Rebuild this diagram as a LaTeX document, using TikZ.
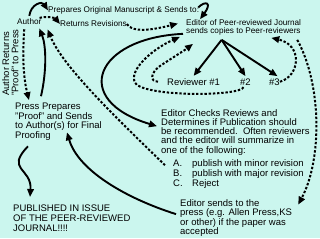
\documentclass[tikz,border=0pt]{standalone}
\usepackage{fontspec}
\setmainfont{Liberation Sans}
\usetikzlibrary{arrows.meta}
\definecolor{pubcyan}{HTML}{CBF6EE}

\begin{document}
\begin{tikzpicture}[
  x=1pt, y=-1pt,
  >={Triangle[length=8pt,width=6.5pt]},
  small/.style={font=\fontsize{8.2}{8.6}\selectfont, inner sep=0pt, align=left},
  body/.style={font=\fontsize{9.5}{9.4}\selectfont, inner sep=0pt, align=left},
  flow/.style={->, line width=1.9pt},
  back/.style={->, line width=2pt, dash pattern=on 2.4pt off 1.8pt},
]

% Background
\fill[pubcyan] (0,0) rectangle (320,238);
\useasboundingbox (0,0) rectangle (320,238);

% Author and editor
\node[small, anchor=base west] (auth) at (17,25) {Author};
\node[small, anchor=base west] (prep) at (48,12.5) {Prepares Original Manuscript \& Sends to:};
\node[small, anchor=base west] (ret) at (60,27) {Returns Revisions};
\node[small, anchor=north west] (ed) at (186,19.2) {Editor of Peer-reviewed Journal\\sends copies to Peer-reviewers};

% Reviewers
\node[body, anchor=base west] (rev1) at (167,85) {Reviewer \#1};
\node[body, anchor=base west] (rev2) at (240,85) {\#2};
\node[body, anchor=base west] (rev3) at (269,85) {\#3};

% Press and proofs
\node[body, rotate=90, anchor=north west] (rot) at (2,96) {Author Returns\\"Proof" to Press};
\node[body, anchor=north west] (press) at (15,103.2) {Press Prepares\\"Proof" and Sends\\to Author(s) for Final\\Proofing};

% Decision
\node[body, font=\fontsize{9.5}{9.2}\selectfont, anchor=north west] (chk) at (161,109.2) {
  Editor Checks Reviews and\\
  Determines if Publication should\\
  be recommended.\ \ Often reviewers\\
  and the editor will summarize in\\
  one of the following:\\[4.5pt]
  \hspace*{12pt}\makebox[19pt][l]{A.}publish with minor revision\\[0.5pt]
  \hspace*{12pt}\makebox[19pt][l]{B.}publish with major revision\\[0.5pt]
  \hspace*{12pt}\makebox[19pt][l]{C.}Reject
};
\node[body, font=\fontsize{9.5}{9.2}\selectfont, anchor=north west] (send) at (180,199.7) {Editor sends to the\\press (e.g. Allen Press,KS\\or other) if the paper was\\accepted};
\node[body, font=\fontsize{9.5}{10}\selectfont, anchor=north west] (pub) at (13,205) {PUBLISHED IN ISSUE\\OF THE PEER-REVIEWED\\JOURNAL!!!!};

% Submission
\draw[flow] ([yshift=3pt]auth.north) .. controls (31,4) and (42,1) .. (prep.west);
\draw[flow] ([shift={(-1,-3)}]prep.east) .. controls (206,0) and (212,3) .. ([shift={(14,0)}]ed.north west);

% Revisions
\draw[back] ([shift={(-2,-1)}]auth.north east) .. controls (48,16) and (55,18) .. (ret.west);
\draw[back] (ret.east) .. controls (132,33) and (152,30) .. ([shift={(-8,-4)}]ed.west);

% Copies to reviewers
\coordinate (fan) at ([shift={(-22,4)}]ed.south);
\draw[flow] (fan) -- ([yshift=2pt]rev1.north);
\draw[flow] (fan) -- ([yshift=2pt]rev2.north);
\draw[flow] (fan) -- ([shift={(3,-2)}]rev3.north);

% Reviews back to editor
\draw[back] (rev3.east) .. controls (300,76) and (303,45) .. ([shift={(-30,2)}]ed.south east);
\draw[back] ([xshift=-9pt]rev1.west) .. controls (150,82) and (150,73) .. (160,66)
  .. controls (172,58) and (185,50) .. ([shift={(7,8)}]ed.south west);
\draw[back] ([shift={(-2,2)}]rev2.south) .. controls (240,96) and (155,97) .. (137,85)
  .. controls (125,74) and (150,50) .. ([shift={(-6,1)}]ed.south west);

% Editor decision
\draw[flow] ([shift={(-3,-2)}]ed.south west) .. controls (95,38) and (70,100) .. ([shift={(-4,17)}]chk.north west);
\draw[back] ([shift={(4,56)}]chk.north west) .. controls (110,112) and (62,65) .. ([shift={(6,4)}]auth.south east);
\draw[back] ([shift={(-4,4)}]ed.south east) .. controls (322,85) and (322,160) .. ([shift={(6,5)}]send.north east);

% Press and proofs
\draw[flow] ([shift={(-4,-4)}]send.west) .. controls (125,198) and (78,170) .. ([shift={(52,-8)}]press.south west);
\draw[flow] ([shift={(26,-7)}]press.north west) .. controls (47,70) and (46,45) .. ([shift={(10,3)}]auth.south);
\draw[back] ([shift={(-5,4)}]auth.south) .. controls (22,60) and (24,80) .. ([shift={(14,-3)}]press.north west);
\draw[flow] ([shift={(13,6)}]press.south west) .. controls (5,170) and (32,168) .. ([shift={(17,-8)}]pub.north west);

\end{tikzpicture}
\end{document}
